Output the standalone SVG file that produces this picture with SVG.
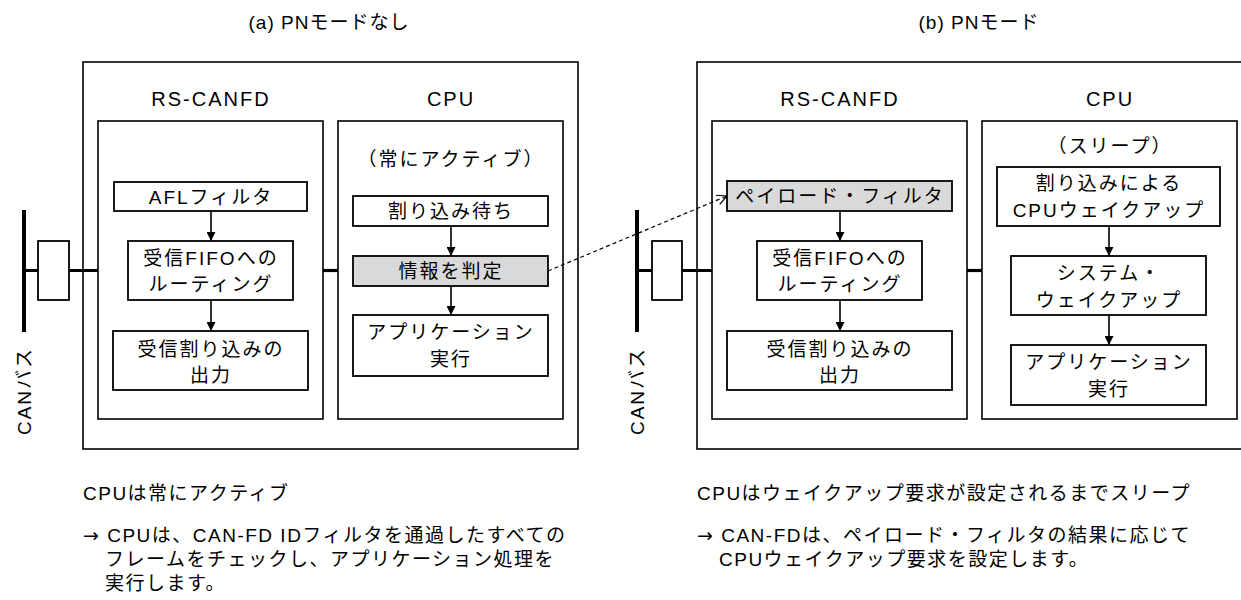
<svg xmlns="http://www.w3.org/2000/svg" width="1241" height="600" viewBox="0 0 1241 600">
<defs>
<style>
text{font-family:"Liberation Sans","Noto Sans CJK JP",sans-serif;fill:#000}
.hd{font-size:20px;letter-spacing:2px;text-anchor:middle}
.tt{font-size:19px;letter-spacing:1px;text-anchor:middle}
.bx{font-size:19px;letter-spacing:2px;text-anchor:middle}
.nt{font-size:19px;letter-spacing:1.5px}
.ar{font-family:"DejaVu Sans",sans-serif}
.vb{font-size:19px;letter-spacing:2px;text-anchor:middle}
.outer{fill:#fff;stroke:#000;stroke-width:1.6}
.inner{fill:#fff;stroke:#000;stroke-width:1.6}
.box{fill:#fff;stroke:#000;stroke-width:1.8}
.gray{fill:#d9d9d9;stroke:#000;stroke-width:1.8}
.bus{stroke:#000;stroke-width:4;fill:none}
.link{stroke:#000;stroke-width:3.2;fill:none}
.arr{stroke:#000;stroke-width:1.6;fill:none;marker-end:url(#ah)}
.dash{stroke:#000;stroke-width:1.2;fill:none;stroke-dasharray:4 3;marker-end:url(#oh)}
</style>
<marker id="ah" viewBox="0 0 10 10" refX="10" refY="5" markerWidth="10" markerHeight="9" markerUnits="userSpaceOnUse" orient="auto">
<path d="M0,0 L10,5 L0,10 z" fill="#000"/>
</marker>
<marker id="oh" viewBox="0 0 12 12" refX="11" refY="6" markerWidth="12" markerHeight="12" markerUnits="userSpaceOnUse" orient="auto">
<path d="M1,1 L11,6 L1,11" fill="none" stroke="#000" stroke-width="1.2"/>
</marker>
</defs>
<rect width="1241" height="600" fill="#fff"/>

<text class="tt" x="329" y="29">(a) PNモードなし</text>
<text class="tt" x="979" y="29">(b) PNモード</text>

<!-- Left panel -->
<g id="panel-a">
<rect class="outer" x="83" y="62" width="495" height="387"/>
</g>
<g id="a-rscanfd">
<rect class="inner" x="98" y="121" width="225" height="298"/>
<text class="hd" x="211" y="106">RS-CANFD</text>
</g>
<g id="a-cpu">
<rect class="inner" x="338" y="121" width="225" height="298"/>
<text class="hd" x="451" y="106">CPU</text>
<text class="bx" x="451" y="166">（常にアクティブ）</text>
</g>

<!-- Right panel -->
<g id="panel-b">
<rect class="outer" x="697" y="62" width="564" height="387"/>
</g>
<g id="b-rscanfd">
<rect class="inner" x="712" y="121" width="255" height="298"/>
<text class="hd" x="840" y="106">RS-CANFD</text>
</g>
<g id="b-cpu">
<rect class="inner" x="982" y="121" width="255" height="298"/>
<text class="hd" x="1110" y="106">CPU</text>
<text class="bx" x="1110" y="153">（スリープ）</text>
</g>

<!-- Connectors -->
<g id="connectors">
<line class="bus" x1="24" y1="210" x2="24" y2="332"/>
<line class="link" x1="24" y1="270.5" x2="98" y2="270.5"/>
<line class="link" x1="323" y1="270.5" x2="338" y2="270.5"/>
<line class="bus" x1="637" y1="210" x2="637" y2="332"/>
<line class="link" x1="637" y1="270.5" x2="712" y2="270.5"/>
<line class="link" x1="967" y1="270.5" x2="982" y2="270.5"/>
<line class="arr" x1="211" y1="211" x2="211" y2="241"/>
<line class="arr" x1="211" y1="300" x2="211" y2="331"/>
<line class="arr" x1="451" y1="226" x2="451" y2="256"/>
<line class="arr" x1="451" y1="286" x2="451" y2="315"/>
<line class="arr" x1="840" y1="211" x2="840" y2="241"/>
<line class="arr" x1="840" y1="300" x2="840" y2="331"/>
<line class="arr" x1="1109" y1="226" x2="1109" y2="256"/>
<line class="arr" x1="1109" y1="315" x2="1109" y2="345"/>
<line class="dash" x1="548" y1="271" x2="727" y2="196"/>
</g>

<!-- Left nodes -->
<g id="a-transceiver"><rect class="box" x="38" y="241" width="31" height="59"/></g>
<g id="a-canbus"><text class="vb" transform="translate(31,391) rotate(-90)">CANバス</text></g>
<g id="a-afl">
<rect class="box" x="114" y="182" width="193" height="29"/>
<text class="bx" x="211" y="204">AFLフィルタ</text>
</g>
<g id="a-routing">
<rect class="box" x="128" y="241" width="165" height="59"/>
<text class="bx" x="211" y="265">受信FIFOへの</text>
<text class="bx" x="211" y="291">ルーティング</text>
</g>
<g id="a-irqout">
<rect class="box" x="113" y="331" width="195" height="59"/>
<text class="bx" x="211" y="356">受信割り込みの</text>
<text class="bx" x="211" y="382">出力</text>
</g>
<g id="a-wait">
<rect class="box" x="353" y="196" width="195" height="30"/>
<text class="bx" x="451" y="218">割り込み待ち</text>
</g>
<g id="a-judge">
<rect class="gray" x="353" y="256" width="195" height="30"/>
<text class="bx" x="451" y="278">情報を判定</text>
</g>
<g id="a-app">
<rect class="box" x="353" y="315" width="195" height="61"/>
<text class="bx" x="451" y="339">アプリケーション</text>
<text class="bx" x="451" y="366">実行</text>
</g>

<!-- Right nodes -->
<g id="b-transceiver"><rect class="box" x="652" y="241" width="30" height="59"/></g>
<g id="b-canbus"><text class="vb" transform="translate(644,391) rotate(-90)">CANバス</text></g>
<g id="b-payload">
<rect class="gray" x="727" y="181" width="225" height="30"/>
<text class="bx" x="840" y="203">ペイロード・フィルタ</text>
</g>
<g id="b-routing">
<rect class="box" x="757" y="241" width="165" height="59"/>
<text class="bx" x="840" y="265">受信FIFOへの</text>
<text class="bx" x="840" y="291">ルーティング</text>
</g>
<g id="b-irqout">
<rect class="box" x="727" y="331" width="225" height="59"/>
<text class="bx" x="840" y="356">受信割り込みの</text>
<text class="bx" x="840" y="382">出力</text>
</g>
<g id="b-wake">
<rect class="box" x="997" y="167" width="223" height="59"/>
<text class="bx" x="1109" y="190">割り込みによる</text>
<text class="bx" x="1109" y="217">CPUウェイクアップ</text>
</g>
<g id="b-syswake">
<rect class="box" x="1011" y="256" width="195" height="59"/>
<text class="bx" x="1109" y="280">システム・</text>
<text class="bx" x="1109" y="307">ウェイクアップ</text>
</g>
<g id="b-app">
<rect class="box" x="1011" y="345" width="195" height="60"/>
<text class="bx" x="1109" y="369">アプリケーション</text>
<text class="bx" x="1109" y="396">実行</text>
</g>

<!-- Notes -->
<g id="note-a">
<text class="nt" x="83" y="500">CPUは常にアクティブ</text>
<text class="nt" x="83" y="542"><tspan class="ar">→</tspan> CPUは、CAN-FD IDフィルタを通過したすべての</text>
<text class="nt" x="105" y="566">フレームをチェックし、アプリケーション処理を</text>
<text class="nt" x="105" y="590">実行します。</text>
</g>
<g id="note-b">
<text class="nt" x="697" y="500">CPUはウェイクアップ要求が設定されるまでスリープ</text>
<text class="nt" x="697" y="542"><tspan class="ar">→</tspan> CAN-FDは、ペイロード・フィルタの結果に応じて</text>
<text class="nt" x="719" y="566">CPUウェイクアップ要求を設定します。</text>
</g>
</svg>
